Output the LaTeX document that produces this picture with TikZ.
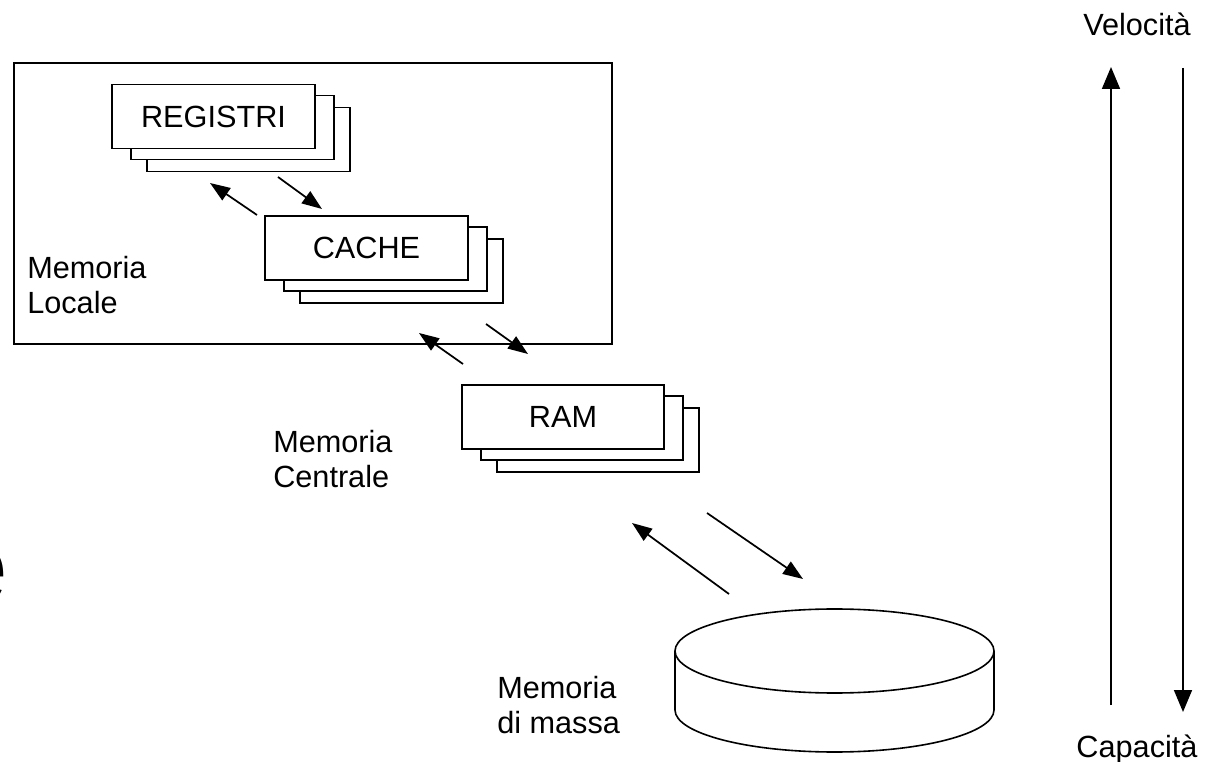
\documentclass[tikz,border=0pt]{standalone}
\usepackage{fontspec}
\setmainfont{Liberation Sans}
\usepackage{tikz}
\usetikzlibrary{arrows.meta,positioning}
\tikzset{
    %Define standard arrow tip
    >={Triangle[length=15pt,width=11pt]},
    %Define style for boxes
    block/.style={
           rectangle,
           draw=black,
           fill=white,
           line width=1.3pt,
           minimum width=152pt,
           minimum height=48pt,
           inner sep=0pt,
           font=\fontsize{23}{26.25}\selectfont},
    % Define style for the captions
    memo/.style={
           anchor=north west,
           inner sep=0pt,
           align=left,
           font=\fontsize{23}{26.25}\selectfont},
    % Define arrow style
    arrow/.style={
           ->,
           line width=1.3pt,
           }
}
\begin{document}
\begin{tikzpicture}[x=0.75pt, y=-0.75pt]
    \useasboundingbox (0,0) rectangle (1218,762);
    % cut-off letter at the left edge
    \node[anchor=base east, inner sep=0pt, font=\fontsize{78}{80}\selectfont] (cut) at (9,603) {e};

    % local memory frame
    \draw[line width=1.3pt] (14,63) rectangle (612,344);

    \node [block] (REG3) at (248.5,139.5) {};
    \node [block] (REG2) at (232.5,127.5) {};
    \node [block] (REG) at (213.5,116.5) {REGISTRI};

    \node [block] (CACHE3) at (401.5,271) {};
    \node [block] (CACHE2) at (385.5,259) {};
    \node [block] (CACHE) at (366.5,248) {CACHE};

    \node [block] (RAM3) at (598,440) {};
    \node [block] (RAM2) at (582,428) {};
    \node [block] (RAM) at (563,417) {RAM};

    \node [memo] (LOC) at (27,256) {Memoria\\Locale};
    \node [memo] (CEN) at (273,430) {Memoria\\Centrale};
    \node [memo] (MAS) at (497,676) {Memoria\\di massa};
    \node [memo, anchor=base] (VEL) at (1137,36) {Velocità};
    \node [memo, anchor=base] (CAP) at (1137,757) {Capacità};

    % mass storage disk
    \draw[line width=1.2pt, fill=white] (834.5,651) ellipse [x radius=159.5, y radius=42];
    \draw[line width=1.2pt] (675,651) -- (675,710)
        arc [start angle=180, end angle=0, x radius=159.5, y radius=42] -- (994,651);

    % ends of the transfer arrows
    \coordinate (rc up a) at (257,215);
    \coordinate (rc up b) at (210,183);
    \coordinate (rc dn a) at (278,177);
    \coordinate (rc dn b) at (322,209);
    \coordinate (cr up a) at (463,364);
    \coordinate (cr up b) at (419,333);
    \coordinate (cr dn a) at (486,324);
    \coordinate (cr dn b) at (528,354);
    \coordinate (rm up a) at (729,594);
    \coordinate (rm up b) at (632,523);
    \coordinate (rm dn a) at (707,513);
    \coordinate (rm dn b) at (803,579);
    \coordinate (vel a) at (1111,705);
    \coordinate (vel b) at (1111,67);
    \coordinate (cap a) at (1183,68);
    \coordinate (cap b) at (1183,712);

    \draw[arrow] (rc up a) -- (rc up b);
    \draw[arrow] (rc dn a) -- (rc dn b);
    \draw[arrow] (cr up a) -- (cr up b);
    \draw[arrow] (cr dn a) -- (cr dn b);
    \draw[arrow] (rm up a) -- (rm up b);
    \draw[arrow] (rm dn a) -- (rm dn b);
    \draw[arrow, >={Triangle[length=16.5pt,width=13.5pt]}] (vel a) -- (vel b);
    \draw[arrow, >={Triangle[length=16.5pt,width=13.5pt]}] (cap a) -- (cap b);
\end{tikzpicture}
\end{document}
